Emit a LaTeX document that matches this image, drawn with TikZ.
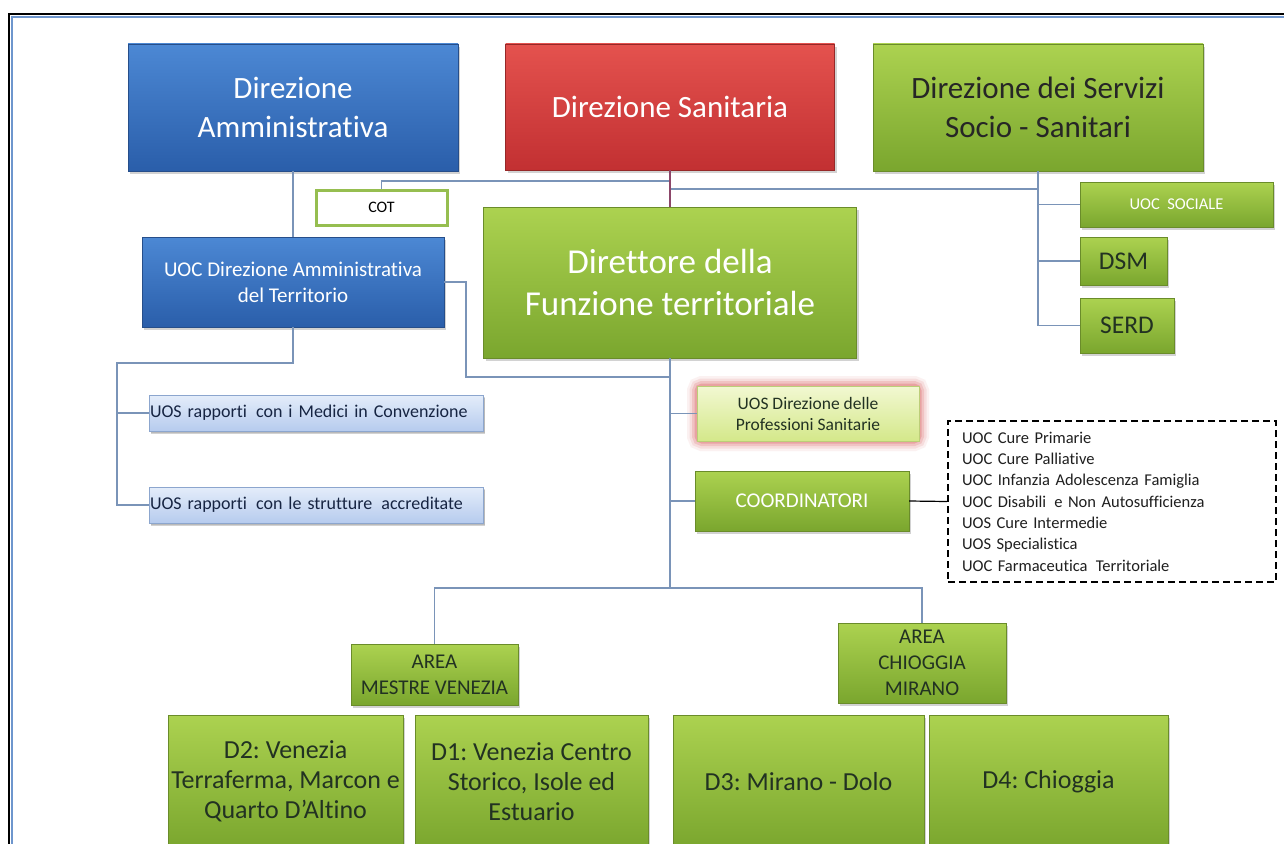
\documentclass[tikz,border=0pt]{standalone}
\usepackage{fontspec}
\setmainfont{Carlito}[Ligatures={TeX,NoCommon}]
\usetikzlibrary{shadows,calc}
\definecolor{blueT}{RGB}{76,136,212}
\definecolor{blueB}{RGB}{42,94,170}
\definecolor{blueD}{RGB}{38,78,138}
\definecolor{redT}{RGB}{228,82,78}
\definecolor{redB}{RGB}{194,48,50}
\definecolor{redD}{RGB}{150,40,40}
\definecolor{grnT}{RGB}{172,210,80}
\definecolor{grnB}{RGB}{122,166,46}
\definecolor{grnD}{RGB}{106,140,42}
\definecolor{lbT}{RGB}{228,237,250}
\definecolor{lbB}{RGB}{182,203,238}
\definecolor{lbD}{RGB}{140,166,206}
\definecolor{lgT}{RGB}{242,248,210}
\definecolor{lgB}{RGB}{212,232,138}
\definecolor{lgD}{RGB}{188,206,120}
\definecolor{cotG}{RGB}{150,190,80}
\definecolor{glowc}{RGB}{214,80,80}
\definecolor{dtxt}{RGB}{34,50,34}
\definecolor{ntxt}{RGB}{22,36,66}
\definecolor{connC}{RGB}{122,148,184}
\definecolor{purpC}{RGB}{140,70,105}
\definecolor{frameB}{RGB}{110,150,205}
\newcommand\fzA{\fontsize{31}{39}\selectfont}
\newcommand\fzF{\fontsize{35}{42}\selectfont}
\newcommand\fzT{\fontsize{21}{26}\selectfont}
\newcommand\fzC{\fontsize{16}{19}\selectfont}
\newcommand\fzM{\fontsize{18}{21}\selectfont}
\newcommand\fzS{\fontsize{16.5}{20}\selectfont}
\newcommand\fzK{\fontsize{25.5}{30}\selectfont}
\newcommand\fzP{\fontsize{17.5}{21}\selectfont}
\newcommand\fzO{\fontsize{21}{25}\selectfont}
\newcommand\fzL{\fontsize{16.5}{21.3}\selectfont}
\newcommand\fzR{\fontsize{21}{26}\selectfont}
\newcommand\fzD{\fontsize{26}{30}\selectfont}
\frenchspacing
\begin{document}
\begin{tikzpicture}[x=1pt,y=-1pt,
  box/.style={rectangle, inner sep=0pt, align=center,
    drop shadow={shadow xshift=2pt, shadow yshift=-3pt, opacity=0.35}},
  bluebox/.style={box, top color=blueT, bottom color=blueB, draw=blueD, text=white},
  redbox/.style={box, top color=redT, bottom color=redB, draw=redD, text=white},
  grnbox/.style={box, top color=grnT, bottom color=grnB, draw=grnD, text=dtxt},
  grnwbox/.style={grnbox, text=white},
  lbbox/.style={box, top color=lbT, bottom color=lbB, draw=lbD, text=ntxt,
    drop shadow={shadow xshift=1.5pt, shadow yshift=-2pt, opacity=0.3}},
  lgbox/.style={rectangle, inner sep=0pt, align=center, top color=lgT, bottom color=lgB, draw=lgD, text=dtxt},
  conn/.style={draw=connC, line width=1.2pt},
]
\useasboundingbox (0,0) rectangle (1284,843);
\clip (0,0) rectangle (1284,843);
\fill[white] (0,0) rectangle (1284,843);
% frame
\draw[black, line width=2pt] (9,860) -- (9,14) -- (1290,14);
\draw[frameB, line width=1.6pt] (12,860) -- (12,17) -- (1290,17);

% top row
\node[bluebox, font=\fzA, minimum width=330pt, minimum height=127pt] (da) at (293,107.5) {Direzione\\Amministrativa};
\node[redbox, font=\fzA, minimum width=329pt, minimum height=126pt] (ds) at (670,107) {Direzione Sanitaria};
\node[grnbox, font=\fzA, text=black!85, minimum width=330pt, minimum height=127pt] (dss) at (1038,107.5) {Direzione dei Servizi\\Socio - Sanitari};

% second row
\node[rectangle, draw=cotG, line width=3pt, fill=white, font=\fzC, minimum width=131pt, minimum height=35pt, inner sep=0pt] (cot) at (381.5,207.5) {COT};
\node[bluebox, font=\fzT, minimum width=302pt, minimum height=90pt] (dat) at (293,282) {UOC Direzione Amministrativa\\del Territorio};
\node[grnwbox, font=\fzF, minimum width=373pt, minimum height=151pt] (dft) at (670,282.5) {Direttore della\\Funzione territoriale};
\node[grnwbox, font=\fzS, minimum width=193pt, minimum height=45pt] (soc) at (1176.5,204.5) {UOC\ \ SOCIALE};
\node[grnbox, font=\fzK, minimum width=87pt, minimum height=48pt] (dsm) at (1123.5,261) {DSM};
\node[grnbox, font=\fzK, minimum width=94pt, minimum height=55pt] (serd) at (1127,325.5) {SERD};

% left UOS
\node[lbbox, font=\fzM, text width=332pt, align=left, inner xsep=1pt, minimum height=36pt] (med) at (316,413) {UOS rapporti\, con i Medici in Convenzione};
\node[lbbox, font=\fzM, text width=332pt, align=left, inner xsep=1pt, minimum height=36pt] (str) at (316,505) {UOS rapporti\, con le strutture\, accreditate};

% glow + UOS direzione professioni
\foreach \w/\o in {20/0.08, 15/0.12, 10/0.18, 5/0.28}
  \draw[glowc, line width=\w pt, opacity=\o, rounded corners=5pt] (697,386) rectangle (919,441);
\node[lgbox, font=\fzP, minimum width=222pt, minimum height=55pt] (udp) at (808,413.5) {UOS Direzione delle\\Professioni Sanitarie};
\node[grnwbox, font=\fzO, minimum width=214pt, minimum height=60pt] (coo) at (802,501) {COORDINATORI};

% dashed list
\node[rectangle, draw=black, dash pattern=on 7pt off 4pt, line width=2.5pt, fill=white,
  minimum width=328pt, minimum height=161pt, text width=300pt, align=left, inner xsep=14pt, inner ysep=0pt,
  font=\fzL, text=black!88] (lst) at (1112,501.5)
  {UOC Cure Primarie\\UOC Cure Palliative\\UOC Infanzia Adolescenza Famiglia\\UOC Disabili\, e Non Autosufficienza\\UOS Cure Intermedie\\UOS Specialistica\\UOC Farmaceutica\, Territoriale};

% areas
\node[grnbox, font=\fzR, minimum width=167pt, minimum height=61pt] (ame) at (434.5,674.5) {AREA\\MESTRE VENEZIA};
\node[grnbox, font=\fzR, minimum width=168pt, minimum height=80pt] (ach) at (922,663) {AREA\\CHIOGGIA\\MIRANO};

% districts
\node[grnbox, font=\fzD, minimum width=235pt, minimum height=133pt] (d2) at (285.5,781.5) {D2: Venezia\\Terraferma, Marcon e\\Quarto D'Altino};
\node[grnbox, font=\fzD, minimum width=233pt, minimum height=133pt] (d1) at (531.5,781.5) {D1: Venezia Centro\\Storico, Isole ed\\Estuario};
\node[grnbox, font=\fzD, minimum width=251pt, minimum height=133pt] (d3) at (798.5,781.5) {D3: Mirano - Dolo};
\node[grnbox, font=\fzD, minimum width=239pt, minimum height=133pt] (d4) at (1048.5,781.5) {D4: Chioggia};

% junctions
\coordinate (jT) at (670,181);
\coordinate (jR) at (670,189);
\coordinate (jM) at (670,377);
\coordinate (jB) at (670,588);
\coordinate (k1) at (466,377);
\coordinate (rt) at (117,363);

% connectors
\draw[conn] (da.south) -- (dat.north);
\draw[conn] (cot.north) |- (jT);
\draw[conn] (jR) -- (jR -| dss.south);
\draw[conn, draw=purpC] (ds.south) -- (dft.north);
\draw[conn] (dss.south) -- (dss.south |- serd.west);
\draw[conn] (dss.south |- soc.west) -- (soc.west);
\draw[conn] (dss.south |- dsm.west) -- (dsm.west);
\draw[conn] (dss.south |- serd.west) -- (serd.west);
\draw[conn] (dat.east) -| (k1) -- (jM);
\draw[conn] (dft.south) -- (jB);
\draw[conn] (udp.west -| jB) -- (udp.west);
\draw[conn] (coo.west -| jB) -- (coo.west);
\draw[conn] (ame.north) |- (jB) -| (ach.north);
\draw[conn] (dat.south) |- (rt) -- (rt |- str.west) -- (str.west);
\draw[conn] (rt |- med.west) -- (med.west);
\draw[black, line width=1.2pt] (coo.east) -- (lst.west);
\end{tikzpicture}
\end{document}
